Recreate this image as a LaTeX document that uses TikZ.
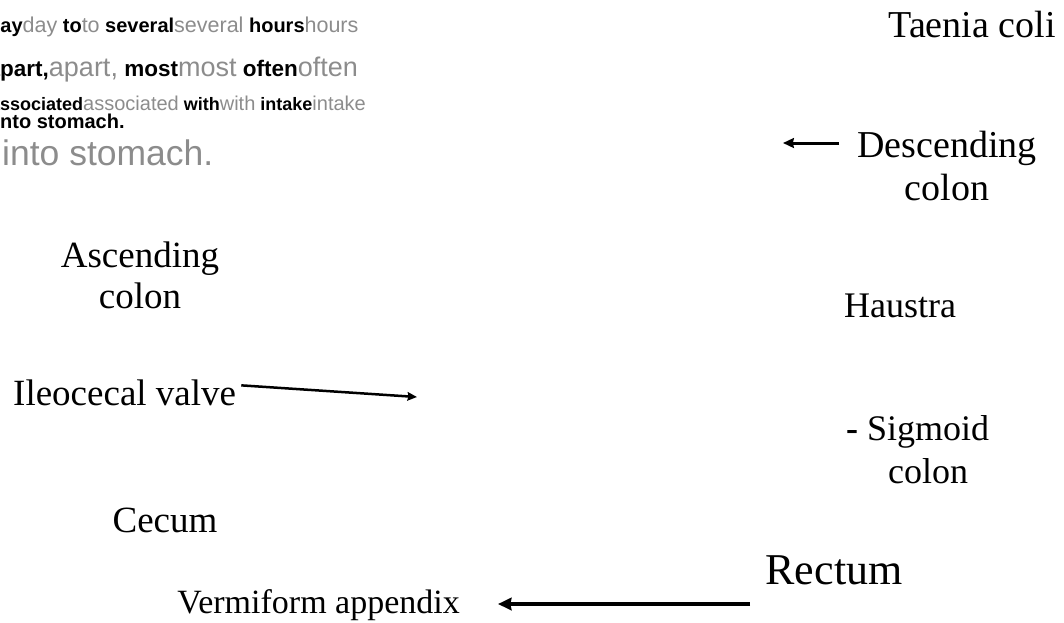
\documentclass[tikz,border=0pt]{standalone}
\usepackage{fontspec}
\setmainfont{Liberation Serif}
\newfontfamily\arialfont{Liberation Sans}
\usepackage{xcolor}
\usetikzlibrary{arrows.meta,positioning}
\definecolor{ghost}{HTML}{8C8C8C}
\newcommand{\greyword}[2]{{\fontsize{#1}{#1}\selectfont\color{ghost}#2}}

\begin{document}
\begin{tikzpicture}[x=1pt,y=-1pt,
  lbl/.style={inner sep=0pt,align=center},
  faded/.style={inner sep=0pt,anchor=base west},
  pointer/.style={line width=#1,-{Stealth[length=3pt 2.6,width=2pt 2.6,inset=1pt]}},
  pointer/.default=3pt]
\useasboundingbox (0,0) rectangle (1064,622);
% half-hidden text in the top left corner
\node[faded,font=\arialfont\fontsize{20}{24}\selectfont] (rowA) at (-12,32)
  {\textbf{day}\greyword{21.5}{day} \textbf{to}\greyword{21.5}{to} \textbf{several}\greyword{21.5}{several} \textbf{hours}\greyword{21.5}{hours}};
\node[faded,font=\arialfont\fontsize{22.5}{26}\selectfont] (rowB) at (-12.5,76)
  {\textbf{apart,}\greyword{27}{apart,} \textbf{most}\greyword{27}{most} \textbf{often}\greyword{27}{often}};
\node[faded,font=\arialfont\fontsize{18}{22}\selectfont] (rowC) at (-10,110)
  {\textbf{associated}\greyword{20}{associated} \textbf{with}\greyword{20}{with} \textbf{intake}\greyword{20}{intake}};
\node[faded,font=\arialfont\fontsize{20}{24}\selectfont] (rowD) at (-5.6,128) {\textbf{into stomach.}};
\node[faded,font=\arialfont\fontsize{35.5}{40}\selectfont,text=ghost] (rowE) at (2,165) {into stomach.};
% labels (base of a two line label = base of its last line)
\node[lbl,anchor=base,font=\fontsize{38}{43}\selectfont] (taenia) at (972,37) {Taenia coli};
\node[lbl,anchor=base,font=\fontsize{38}{43}\selectfont] (descending) at (947,200) {Descending\\colon};
\node[lbl,anchor=base,font=\fontsize{37}{41}\selectfont] (ascending) at (140,308) {Ascending\\colon};
\node[lbl,anchor=base,font=\fontsize{36}{41}\selectfont] (haustra) at (900,317) {Haustra};
\node[lbl,anchor=base west,font=\fontsize{37}{42}\selectfont] (ileocecal) at (13,405) {Ileocecal valve};
\node[lbl,anchor=base,font=\fontsize{36}{43}\selectfont] (sigmoid) at (928,483) {\llap{\textbf{-} }Sigmoid\\colon};
\node[lbl,anchor=base,font=\fontsize{37}{42}\selectfont] (cecum) at (165,532) {Cecum};
\node[lbl,anchor=base,font=\fontsize{44}{50}\selectfont] (rectum) at (834,584) {Rectum};
\node[lbl,anchor=base east,font=\fontsize{34}{40}\selectfont] (vermiform) at (460,613) {Vermiform appendix};
% arrows
\coordinate (descTip) at (783,143);
\coordinate (icvTip) at (417,397);
\coordinate (appTail) at (750,604);
\draw[pointer] ([xshift=-18pt]descending.west |- descTip) -- (descTip);
\draw[pointer=2.5pt] ([shift={(5pt,7pt)}]ileocecal.east) -- (icvTip);
\draw[pointer=4pt] (appTail) -- ([xshift=38pt]vermiform.east |- appTail);
\end{tikzpicture}
\end{document}
